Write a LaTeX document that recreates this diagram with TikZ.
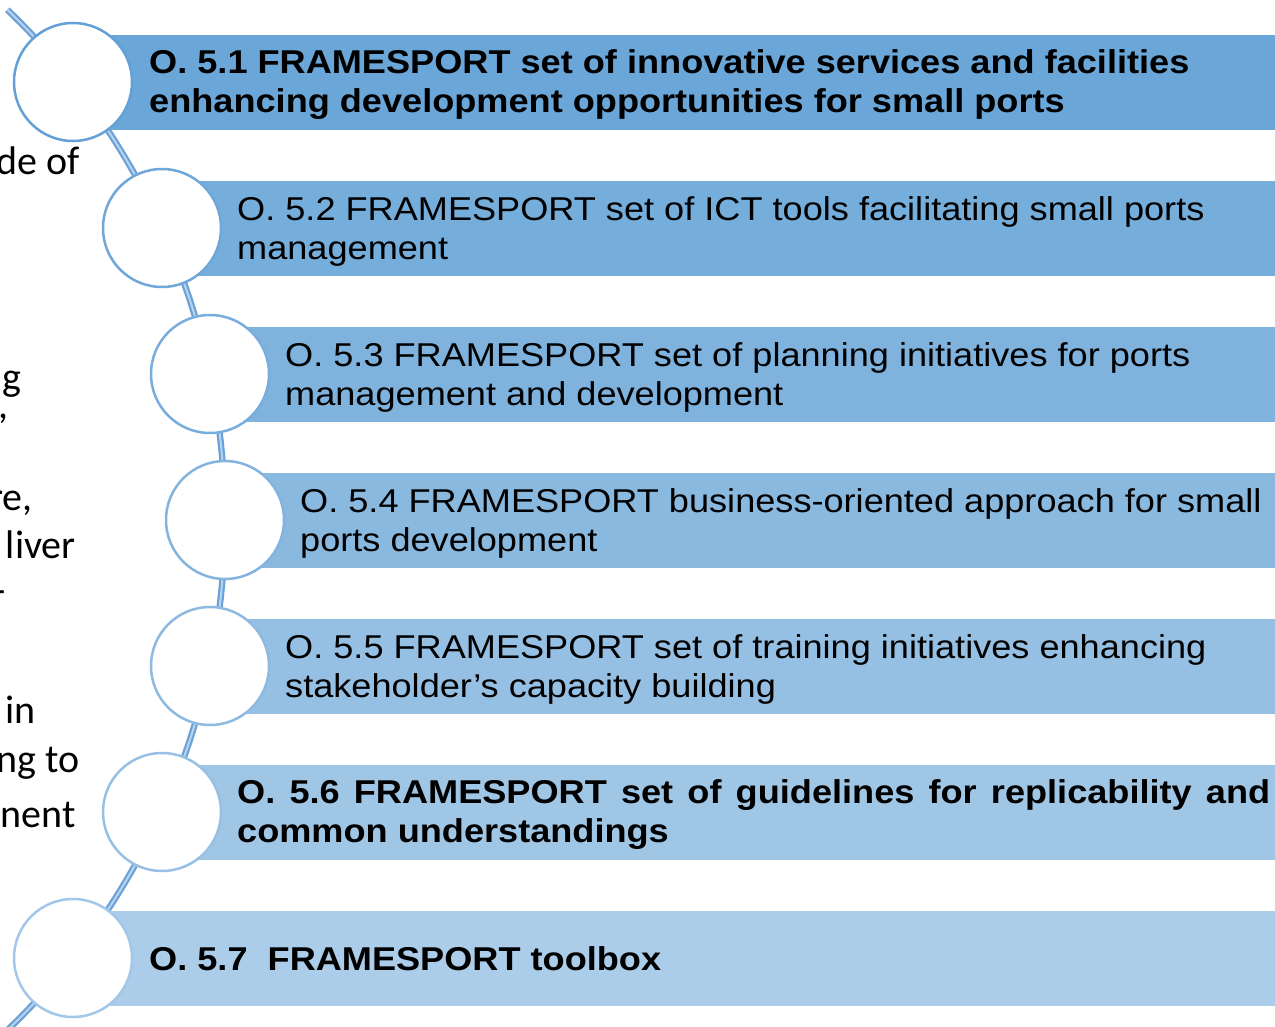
\documentclass[tikz,border=0pt]{standalone}
\usepackage{fontspec}
\setmainfont{Liberation Sans}[FakeStretch=1.095]
\newfontfamily\carl{Carlito}
\definecolor{barA}{RGB}{106,166,216}
\definecolor{barG}{RGB}{171,205,233}
\definecolor{ringA}{RGB}{100,160,215}
\definecolor{ringG}{RGB}{162,199,232}
\definecolor{lineout}{RGB}{106,162,216}
\definecolor{linein}{RGB}{185,211,238}
\colorlet{bar1}{barA}
\colorlet{bar2}{barG!17!barA}
\colorlet{bar3}{barG!33!barA}
\colorlet{bar4}{barG!50!barA}
\colorlet{bar5}{barG!67!barA}
\colorlet{bar6}{barG!83!barA}
\colorlet{bar7}{barG}
\colorlet{ring1}{ringA}
\colorlet{ring2}{ringG!17!ringA}
\colorlet{ring3}{ringG!33!ringA}
\colorlet{ring4}{ringG!50!ringA}
\colorlet{ring5}{ringG!67!ringA}
\colorlet{ring6}{ringG!83!ringA}
\colorlet{ring7}{ringG}
\tikzset{
  barbox/.style={fill=#1, draw=none, anchor=north west, inner sep=0,
    minimum height=95pt},
  ring/.style={circle, draw=#1, line width=2.5pt, fill=white,
    minimum size=118pt, inner sep=0},
  lab/.style={anchor=west, inner sep=0, align=left,
    font=\fontsize{33}{39}\selectfont},
  boldlab/.style={lab, font=\bfseries\fontsize{33}{39}\selectfont},
  frag/.style={anchor=base east, inner sep=0,
    font=\carl\fontsize{40}{50}\selectfont},
  arcline/.style={draw=lineout, line width=2.2pt, double=linein,
    double distance=2pt}
}
\begin{document}
\begin{tikzpicture}[x=1pt,y=-1pt]
\useasboundingbox (0,0) rectangle (1275,1027);
\clip (0,0) rectangle (1275,1027);

% background text fragments (cut off at the left)
\node[frag] (f1) at (80,175) {de of};
\node[frag] (f2) at (22,390) {g};
\node[frag] (f3) at (9,418) {,};
\node[frag] (f4) at (33,510) {re,};
\node[frag] (f5) at (76,558) {liver};
\node[frag] (f6) at (6,603) {-};
\node[frag] (f7) at (36,723) {in};
\node[frag] (f8) at (80,772) {ng to};
\node[frag] (f9) at (76,827) {nent};

% the arc through the circle centres
\draw[arcline] plot[domain=-46.2:47, samples=120]
  ({-482+707*cos(\x)},{520+707*sin(\x)});

% bars
\node[barbox=bar1, minimum width=1210pt] (b1) at (73,35) {};
\node[barbox=bar2, minimum width=1120pt] (b2) at (162,181) {};
\node[barbox=bar3, minimum width=1070pt] (b3) at (210,327) {};
\node[barbox=bar4, minimum width=1055pt] (b4) at (225,473) {};
\node[barbox=bar5, minimum width=1070pt] (b5) at (210,619) {};
\node[barbox=bar6, minimum width=1120pt] (b6) at (162,765) {};
\node[barbox=bar7, minimum width=1210pt] (b7) at (73,911) {};

% circles
\node[ring=ring1] (c1) at (73,82) {};
\node[ring=ring2] (c2) at (162,228) {};
\node[ring=ring3] (c3) at (210,374) {};
\node[ring=ring4] (c4) at (225,520) {};
\node[ring=ring5] (c5) at (210,666) {};
\node[ring=ring6] (c6) at (162,812) {};
\node[ring=ring7] (c7) at (73,958) {};

% labels
\node[boldlab] (t1) at (149,85)
  {O. 5.1 FRAMESPORT set of innovative services and facilities\\
   enhancing development opportunities for small ports};
\node[lab] (t2) at (237,231)
  {O. 5.2 FRAMESPORT set of ICT tools facilitating small ports\\
   management};
\node[lab] (t3) at (285,377)
  {O. 5.3 FRAMESPORT set of planning initiatives for ports\\
   management and development};
\node[lab] (t4) at (300,523)
  {O. 5.4 FRAMESPORT business-oriented approach for small\\
   ports development};
\node[lab] (t5) at (285,669)
  {O. 5.5 FRAMESPORT set of training initiatives enhancing\\
   stakeholder’s capacity building};
\node[boldlab] (t6) at (237,815)
  {\makebox[1033pt][s]{O. 5.6 FRAMESPORT set of guidelines for replicability and}\\
   common understandings};
\node[boldlab] (t7) at (149,959)
  {O. 5.7\ \ FRAMESPORT toolbox};
\end{tikzpicture}
\end{document}
